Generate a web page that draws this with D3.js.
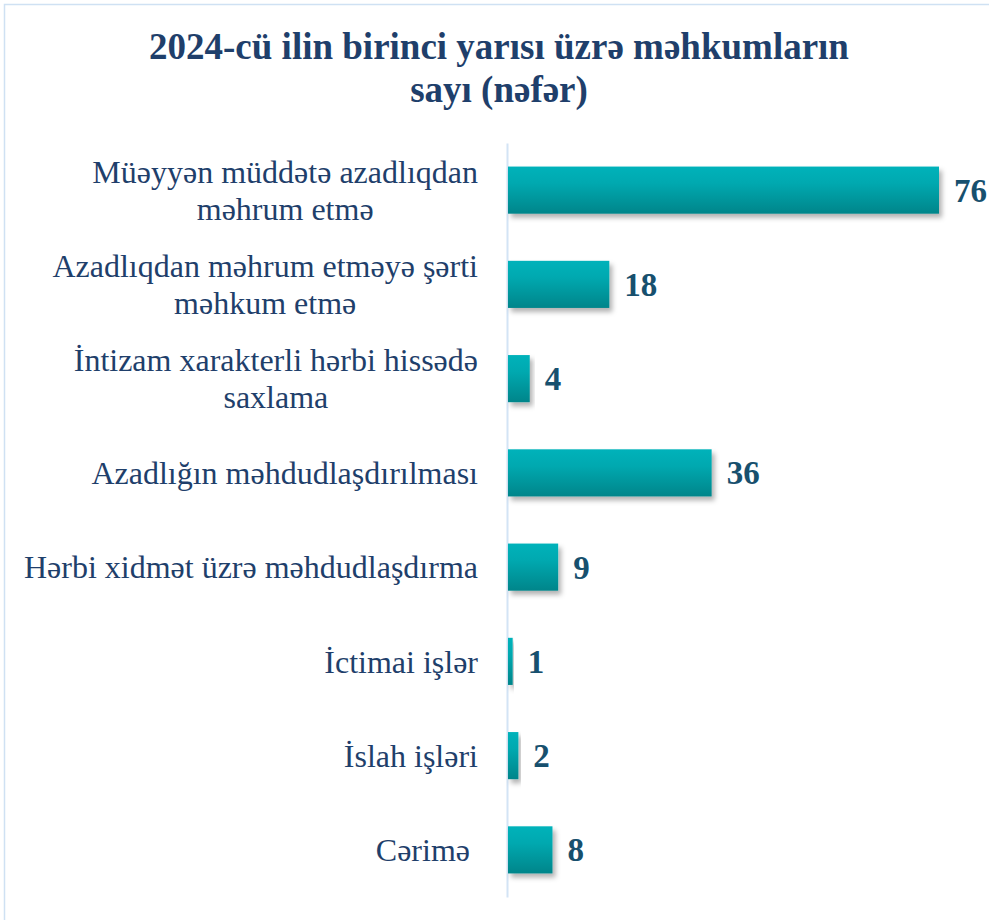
<!DOCTYPE html>
<html>
<head>
<meta charset="utf-8">
<script src="https://cdn.jsdelivr.net/npm/d3@7"></script>
<style>
  html, body { margin: 0; padding: 0; background: #ffffff; }
  svg { display: block; }
</style>
</head>
<body>
<svg id="chart" width="989" height="920"></svg>
<script>
// ---- data ----
const titleLines = ["2024-cü ilin birinci yarısı üzrə məhkumların", "sayı (nəfər)"];
const categories = [
  "Müəyyən müddətə azadlıqdan\nməhrum etmə",
  "Azadlıqdan məhrum etməyə şərti\nməhkum etmə",
  "İntizam xarakterli hərbi hissədə\nsaxlama",
  "Azadlığın məhdudlaşdırılması",
  "Hərbi xidmət üzrə məhdudlaşdırma",
  "İctimai işlər",
  "İslah işləri",
  "Cərimə "
];
const values = [76, 18, 4, 36, 9, 1, 2, 8];

// ---- drawing ----
const W = 989, H = 920;
const svg = d3.select("#chart");

const defs = svg.append("defs");
const grad = defs.append("linearGradient")
  .attr("id", "barGrad").attr("x1", 0).attr("y1", 0).attr("x2", 0).attr("y2", 1);
grad.append("stop").attr("offset", "0%").attr("stop-color", "#00B2BA");
grad.append("stop").attr("offset", "35%").attr("stop-color", "#00A9B0");
grad.append("stop").attr("offset", "100%").attr("stop-color", "#00858A");

const shadow = defs.append("filter").attr("id", "shadow")
  .attr("x", "-10%").attr("y", "-20%").attr("width", "130%").attr("height", "160%");
shadow.append("feDropShadow")
  .attr("dx", 3).attr("dy", 4).attr("stdDeviation", 2.5)
  .attr("flood-color", "#000").attr("flood-opacity", 0.3);

// frame
svg.append("rect")
  .attr("x", 4.5).attr("y", 4.5).attr("width", 1000).attr("height", 1000)
  .attr("fill", "none").attr("stroke", "#CFE1F3").attr("stroke-width", 1.5);

// title
const title = svg.append("text")
  .attr("text-anchor", "middle")
  .attr("font-family", "'Liberation Serif', 'Times New Roman', serif")
  .attr("font-weight", "bold")
  .attr("font-size", 37)
  .attr("fill", "#1F3F6B");
titleLines.forEach((t, i) => {
  title.append("tspan").attr("x", 499).attr("y", 59 + i * 43).text(t);
});

const x = d3.scaleLinear().domain([0, 76]).range([507, 939]);
const y = d3.scaleBand().domain(categories).range([143, 897])
  .paddingInner(0.5).paddingOuter(0.25);

// axis line (y axis, no ticks)
const yAxis = d3.axisLeft(y).tickSize(0).tickFormat("");
const axisG = svg.append("g").attr("transform", `translate(${x(0)},0)`).call(yAxis);
axisG.select(".domain").attr("stroke", "#D3E4F5").attr("stroke-width", 2);

// bars
svg.append("g").selectAll("rect")
  .data(values)
  .join("rect")
  .attr("x", x(0) + 1)
  .attr("y", (d, i) => y(categories[i]))
  .attr("width", d => x(d) - x(0) - 1)
  .attr("height", y.bandwidth())
  .attr("fill", "url(#barGrad)")
  .attr("filter", "url(#shadow)");

// value labels
svg.append("g").selectAll("text")
  .data(values)
  .join("text")
  .attr("x", d => x(d) + 15)
  .attr("y", (d, i) => y(categories[i]) + y.bandwidth() / 2)
  .attr("dy", "0.35em")
  .attr("font-family", "'Liberation Serif', 'Times New Roman', serif")
  .attr("font-weight", "bold")
  .attr("font-size", 33)
  .attr("fill", "#17506E")
  .text(d => d);

// category labels
const lineH = 37;
const labG = svg.append("g");
categories.forEach((c, i) => {
  const lines = c.split("\n");
  const cy = y(c) + y.bandwidth() / 2;
  const t = labG.append("text")
    .attr("font-family", "'Liberation Serif', 'Times New Roman', serif")
    .attr("font-size", 32)
    .attr("fill", "#1F3F6B")
    .attr("xml:space", "preserve");
  const startY = cy - (lines.length - 1) * lineH / 2;
  lines.forEach((ln, j) => {
    t.append("tspan").attr("y", startY + j * lineH).attr("dy", "0.35em").text(ln);
  });
  // right-align widest line at x=478, center other lines relative to it
  const tsp = t.selectAll("tspan").nodes();
  const widths = tsp.map(n => n.getComputedTextLength());
  const maxW = d3.max(widths);
  const right = 478;
  const centerX = right - maxW / 2;
  tsp.forEach((n, j) => {
    if (lines.length === 1) {
      d3.select(n).attr("x", right).attr("text-anchor", "end");
    } else {
      d3.select(n).attr("x", centerX).attr("text-anchor", "middle");
    }
  });
});
</script>
</body>
</html>
